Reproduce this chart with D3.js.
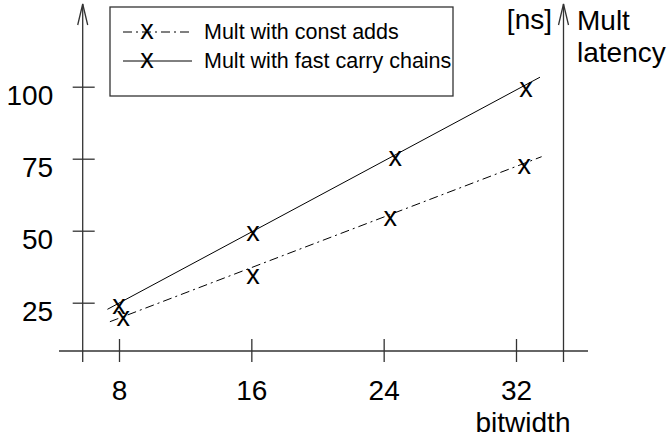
<!DOCTYPE html>
<html>
<head>
<meta charset="utf-8">
<style type="text/css">
  body{
    margin: 0;
    background: white;
  }
  svg text{
    font-family: 'Liberation Sans', Arial, Helvetica, sans-serif;
    fill: #000;
  }
</style>
</head>
<body>

<script src="https://cdn.jsdelivr.net/npm/d3@7/dist/d3.min.js"></script>

<svg id="chart" width="668" height="440"></svg>

<script>

// tick labels
var xTicks = [8, 16, 24, 32];
var yTicks = [25, 50, 75, 100];

// series: bitwidth positions and latency in ns
var seriesNames = ["Mult with const adds", "Mult with fast carry chains"];

var constBits = [8.25, 16.1, 24.4, 32.5];
var constLatency = [19.6, 34.0, 54.3, 72.2];

var fastBits = [8.0, 16.1, 24.7, 32.6];
var fastLatency = [23.6, 49.1, 75.1, 99.1];

// fitted lines, end points in data units
var constFitBits = [7.45, 33.55];
var constFitLatency = [18.4, 75.7];

var fastFitBits = [7.3, 33.45];
var fastFitLatency = [22.7, 103.3];

var width = 668, height = 440;

var svg = d3.select("#chart");

var x = d3.scaleLinear().domain([8, 32]).range([119, 516]);
var y = d3.scaleLinear().domain([25, 100]).range([302.7, 86.7]);

var leftAxisX = 82.7;
var rightAxisX = 563.5;
var baseY = 351;
var axisColor = "#333";

// horizontal axis line
svg.append("line")
  .attr("x1", 59).attr("x2", 588)
  .attr("y1", baseY).attr("y2", baseY)
  .attr("stroke", axisColor)
  .attr("stroke-width", 1.6);

// the two vertical axes with open arrow heads
[leftAxisX, rightAxisX].forEach(function(ax) {
  svg.append("line")
    .attr("x1", ax).attr("x2", ax)
    .attr("y1", 4).attr("y2", 362)
    .attr("stroke", axisColor)
    .attr("stroke-width", 1.3);
  svg.append("path")
    .attr("d", "M" + (ax - 5) + ",25L" + ax + ",4L" + (ax + 5) + ",25")
    .attr("fill", "none")
    .attr("stroke", axisColor)
    .attr("stroke-width", 1.3);
});

// x ticks
var xAxis = svg.append("g")
  .attr("transform", "translate(0," + baseY + ")")
  .call(d3.axisBottom(x).tickValues(xTicks).tickFormat(d3.format("d")));

xAxis.select(".domain").remove();
xAxis.selectAll(".tick line")
  .attr("y1", -12).attr("y2", 11)
  .attr("stroke", axisColor)
  .attr("stroke-width", 1.3);
xAxis.selectAll(".tick text")
  .attr("y", 48.5)
  .attr("dy", null)
  .attr("font-size", 28)
  .attr("font-family", null);

// y ticks
var yAxis = svg.append("g")
  .attr("transform", "translate(" + leftAxisX + ",0)")
  .call(d3.axisLeft(y).tickValues(yTicks));

yAxis.select(".domain").remove();
yAxis.selectAll(".tick line")
  .attr("x1", -10).attr("x2", 12)
  .attr("stroke", axisColor)
  .attr("stroke-width", 1.3);
yAxis.selectAll(".tick text")
  .attr("x", -29.5)
  .attr("y", 17.5)
  .attr("dy", null)
  .attr("font-size", 28)
  .attr("font-family", null);

// axis titles
svg.append("text")
  .attr("x", 523).attr("y", 432)
  .attr("text-anchor", "middle")
  .attr("font-size", 28)
  .text("bitwidth");

svg.append("text")
  .attr("x", 552).attr("y", 29)
  .attr("text-anchor", "end")
  .attr("font-size", 28)
  .text("[ns]");

svg.append("text")
  .attr("x", 577).attr("y", 30)
  .attr("font-size", 28)
  .text("Mult");

svg.append("text")
  .attr("x", 577).attr("y", 62)
  .attr("font-size", 28)
  .text("latency");

// fitted lines
var dashStyle = "9,4,2,4";

svg.append("line")
  .attr("x1", x(constFitBits[0])).attr("y1", y(constFitLatency[0]))
  .attr("x2", x(constFitBits[1])).attr("y2", y(constFitLatency[1]))
  .attr("stroke", "#000")
  .attr("stroke-width", 1)
  .attr("stroke-dasharray", dashStyle);

svg.append("line")
  .attr("x1", x(fastFitBits[0])).attr("y1", y(fastFitLatency[0]))
  .attr("x2", x(fastFitBits[1])).attr("y2", y(fastFitLatency[1]))
  .attr("stroke", "#000")
  .attr("stroke-width", 1);

// markers
function drawMarks(bits, lat) {
  svg.append("g").selectAll("text")
    .data(d3.zip(bits, lat))
    .enter()
    .append("text")
    .attr("x", function(d) { return x(d[0]); })
    .attr("y", function(d) { return y(d[1]); })
    .attr("dy", "0.27em")
    .attr("text-anchor", "middle")
    .attr("font-size", 27)
    .text("x");
}

drawMarks(constBits, constLatency);
drawMarks(fastBits, fastLatency);

// legend
var legend = svg.append("g");

legend.append("rect")
  .attr("x", 110).attr("y", 7)
  .attr("width", 343).attr("height", 89)
  .attr("fill", "white")
  .attr("stroke", axisColor)
  .attr("stroke-width", 1.3);

var legendRows = legend.selectAll(".row")
  .data(seriesNames)
  .enter()
  .append("g")
  .attr("class", "row")
  .attr("transform", function(d, i) { return "translate(0," + (32 + i * 29) + ")"; });

legendRows.append("line")
  .attr("x1", 123).attr("x2", 192)
  .attr("y1", 0).attr("y2", 0)
  .attr("stroke", "#000")
  .attr("stroke-width", 1)
  .attr("stroke-dasharray", function(d, i) { return i == 0 ? dashStyle : null; });

legendRows.append("text")
  .attr("x", 147).attr("y", 0)
  .attr("dy", "0.27em")
  .attr("text-anchor", "middle")
  .attr("font-size", 27)
  .text("x");

legendRows.append("text")
  .attr("x", 204).attr("y", 7)
  .attr("font-size", 21.5)
  .text(function(d) { return d; });

</script>

</body>
</html>
